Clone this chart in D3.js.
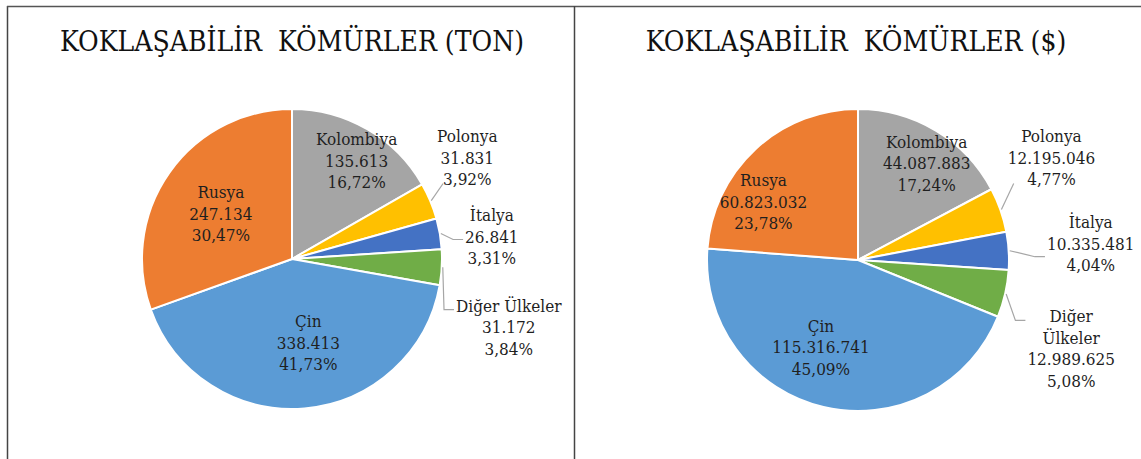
<!DOCTYPE html>
<html>
<head>
<meta charset="utf-8">
<script src="https://cdn.jsdelivr.net/npm/d3@7"></script>
<style>
  body { margin: 0; background: #fff; }
</style>
</head>
<body>
<div id="chart"></div>
<script>
// categories in the order Excel draws them (clockwise from 12 o'clock)
var categories = ["Kolombiya", "Polonya", "İtalya", "Diğer Ülkeler", "Çin", "Rusya"];
var tonValues = [135613, 31831, 26841, 31172, 338413, 247134];
var usdValues = [44087883, 12195046, 10335481, 12989625, 115316741, 60823032];
var titles = ["KOKLAŞABİLİR  KÖMÜRLER (TON)", "KOKLAŞABİLİR  KÖMÜRLER ($)"];
var colors = ["#a5a5a5", "#ffc000", "#4472c4", "#70ad47", "#5b9bd5", "#ed7d31"];

var W = 1141, H = 459;
var serif = "'DejaVu Serif Condensed', 'DejaVu Serif', serif";

var tr = d3.formatLocale({decimal: ",", thousands: ".", grouping: [3], currency: ["", ""]});
var fmtNum = tr.format(",d");
var fmtPct = function(v) { return tr.format(".2f")(v * 100) + "%"; };

var svg = d3.select("#chart").append("svg")
  .attr("width", W)
  .attr("height", H)
  .style("font-family", serif)
  .style("font-stretch", "condensed");

// panel frame lines
svg.append("line").attr("x1", 7.5).attr("y1", 6).attr("x2", 7.5).attr("y2", H)
  .attr("stroke", "#444").attr("stroke-width", 1.5);
svg.append("line").attr("x1", 7).attr("y1", 6.5).attr("x2", W).attr("y2", 6.5)
  .attr("stroke", "#555").attr("stroke-width", 1.5);
svg.append("line").attr("x1", 574.5).attr("y1", 6).attr("x2", 574.5).attr("y2", H)
  .attr("stroke", "#444").attr("stroke-width", 1.5);

// layout of each panel: pie centre, radius and label tweaks (pixels)
var panels = [
  {values: tonValues, title: titles[0], cx: 292, cy: 259, r: 150, tx: 292, ty: 51, wrap: false,
   nudge: [[6, 3], [0, 0], [0, 0], [0, 0], [9, -3], [0, 5]],
   outside: [null, [37, -43], [52, 3], [67, 60], null, null]},
  {values: usdValues, title: titles[1], cx: 858, cy: 260, r: 151, tx: 856, ty: 51, wrap: true,
   nudge: [[8, 4], [0, 0], [0, 0], [0, 0], [-17, 2], [-35, 6]],
   outside: [null, [51, -52], [82, -7], [66, 55], null, null]}
];

var lineH = 21.5;

panels.forEach(function(p) {
  var total = d3.sum(p.values);

  var pie = d3.pie().sort(null).value(function(d) { return d; });
  var arcs = pie(p.values);

  var arc = d3.arc().innerRadius(0).outerRadius(p.r);

  var g = svg.append("g")
    .attr("transform", "translate(" + p.cx + "," + p.cy + ")");

  var title = svg.append("text")
    .attr("x", p.tx)
    .attr("y", p.ty)
    .attr("text-anchor", "middle")
    .attr("font-size", 28)
    .attr("fill", "#111")
    .style("white-space", "pre")
    .text(p.title);
  // squeeze the title to the width of the original if the font runs wide
  var tw = title.node().getComputedTextLength();
  var want = p.title.indexOf("TON") > 0 ? 472 : 430;
  if (tw > want) title.attr("textLength", want).attr("lengthAdjust", "spacingAndGlyphs");

  g.selectAll("path.slice")
    .data(arcs)
    .enter().append("path")
    .attr("class", "slice")
    .attr("d", arc)
    .attr("fill", function(d, i) { return colors[i]; })
    .attr("stroke", "#fff")
    .attr("stroke-width", 2)
    .attr("stroke-linejoin", "round");

  arcs.forEach(function(d, i) {
    var share = d.value / total;
    var mid = (d.startAngle + d.endAngle) / 2;
    var nameLines = [categories[i]];
    var out = p.outside[i];
    if (out && p.wrap && categories[i].indexOf(" ") > 0) nameLines = categories[i].split(" ");
    var lines = nameLines.concat([fmtNum(d.value), fmtPct(share)]);

    var lx, ly;
    if (out) {
      // outside label with leader line
      var ex = Math.sin(mid) * p.r, ey = -Math.cos(mid) * p.r;
      lx = ex + out[0];
      ly = ey + out[1];
    } else {
      var k = share < 0.2 ? 0.78 : 0.58;
      var c = d3.arc().innerRadius(p.r * k).outerRadius(p.r * k).centroid(d);
      lx = c[0] + p.nudge[i][0];
      ly = c[1] + p.nudge[i][1];
    }

    var top = ly - (lines.length - 1) * lineH / 2;
    var t = g.append("text")
      .attr("text-anchor", "middle")
      .attr("font-size", 17)
      .attr("fill", "#1f1f1f");
    lines.forEach(function(s, j) {
      t.append("tspan")
        .attr("x", lx)
        .attr("y", top + j * lineH)
        .attr("dy", "0.35em")
        .text(s);
    });

    if (out) {
      var bb = t.node().getBBox();
      var sx = Math.sin(mid) * (p.r + 1), sy = -Math.cos(mid) * (p.r + 1);
      var endX, endY, pts;
      if (sy > bb.y + bb.height - 20) {
        // label sits above the slice edge: go up to its lower left corner
        endY = bb.y + bb.height - 6;
        endX = bb.x + 6;
        if (endX - sx > 16) pts = [[sx, sy], [endX - 10, endY], [endX, endY]];
        else pts = [[sx, sy], [endX, endY]];
      } else {
        endY = Math.max(bb.y + 14, Math.min(sy + 6, bb.y + bb.height - 10));
        endX = bb.x - 2;
        pts = [[sx, sy], [endX - 10, endY], [endX, endY]];
      }
      g.append("path")
        .attr("d", d3.line()(pts))
        .attr("fill", "none")
        .attr("stroke", "#a6a6a6")
        .attr("stroke-width", 1.2);
    }
  });
});
</script>
</body>
</html>
